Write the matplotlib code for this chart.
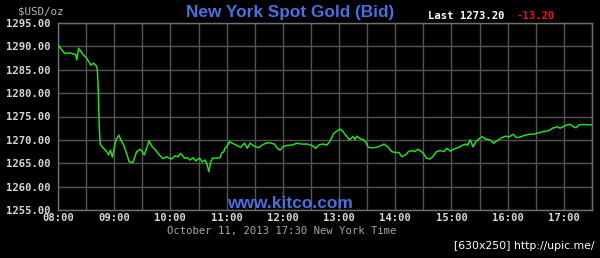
import matplotlib
matplotlib.use("Agg")
import matplotlib.pyplot as plt
import matplotlib.dates as mdates
import pandas as pd

# ---- data ----
times = ["08:00", "08:07", "08:13", "08:19", "08:20", "08:22", "08:27", "08:31", "08:35", "08:38",
         "08:41", "08:42", "08:43", "08:44", "08:45", "08:48", "08:52", "08:54", "08:56", "08:58",
         "09:00", "09:02", "09:05", "09:07", "09:10", "09:13", "09:16", "09:20", "09:24", "09:28",
         "09:32", "09:34", "09:37", "09:40", "09:44", "09:48", "09:52", "09:56", "10:01", "10:05",
         "10:08", "10:11", "10:15", "10:18", "10:21", "10:24", "10:27", "10:31", "10:34", "10:37",
         "10:39", "10:41", "10:43", "10:45", "10:50", "10:53", "10:55", "10:57", "10:58", "11:00",
         "11:03", "11:06", "11:11", "11:15", "11:19", "11:22", "11:25", "11:29", "11:34", "11:38",
         "11:42", "11:46", "11:51", "11:54", "11:57", "12:00", "12:04", "12:10", "12:15", "12:20",
         "12:26", "12:31", "12:35", "12:39", "12:43", "12:47", "12:50", "12:54", "12:57", "13:01",
         "13:04", "13:08", "13:11", "13:15", "13:17", "13:19", "13:22", "13:26", "13:29", "13:31",
         "13:35", "13:40", "13:44", "13:48", "13:52", "13:56", "14:00", "14:04", "14:07", "14:11",
         "14:14", "14:18", "14:21", "14:24", "14:28", "14:31", "14:33", "14:37", "14:40", "14:44",
         "14:48", "14:52", "14:55", "14:59", "15:02", "15:06", "15:09", "15:12", "15:16", "15:17",
         "15:20", "15:23", "15:26", "15:30", "15:33", "15:36", "15:41", "15:45", "15:50", "15:54",
         "15:58", "16:01", "16:06", "16:09", "16:13", "16:17", "16:23", "16:27", "16:31", "16:35",
         "16:38", "16:42", "16:45", "16:48", "16:53", "16:56", "16:59", "17:03", "17:07", "17:10",
         "17:13", "17:16", "17:20", "17:30"]
prices = [1290.3, 1288.5, 1288.6, 1288.2, 1287.1, 1289.6, 1288.2, 1287.3, 1286.0, 1286.4,
          1285.8, 1284.9, 1280.7, 1272.8, 1269.1, 1268.3, 1267.5, 1266.8, 1267.8, 1266.3,
          1268.3, 1270.1, 1271.0, 1270.0, 1268.9, 1267.2, 1265.3, 1265.2, 1267.5, 1268.0,
          1266.8, 1267.8, 1269.8, 1268.7, 1267.8, 1266.8, 1266.0, 1266.4, 1265.9, 1266.6,
          1266.4, 1267.1, 1266.1, 1266.2, 1265.7, 1266.2, 1265.5, 1266.1, 1265.3, 1265.7,
          1264.8, 1263.2, 1265.3, 1266.1, 1266.1, 1266.2, 1267.3, 1267.4, 1268.2, 1268.5,
          1269.6, 1269.3, 1268.8, 1268.4, 1269.3, 1268.2, 1269.3, 1268.7, 1268.3, 1268.9,
          1269.3, 1269.4, 1269.1, 1268.2, 1267.8, 1268.5, 1268.8, 1268.9, 1269.3, 1269.1,
          1269.1, 1268.8, 1268.2, 1269.0, 1269.1, 1268.9, 1269.6, 1271.3, 1271.8, 1272.3,
          1271.8, 1270.8, 1270.0, 1270.7, 1270.1, 1270.8, 1270.3, 1270.0, 1269.4, 1268.4,
          1268.3, 1268.4, 1268.7, 1269.1, 1268.5, 1267.5, 1267.3, 1267.3, 1266.4, 1266.8,
          1267.5, 1267.7, 1267.5, 1268.0, 1267.5, 1266.8, 1266.1, 1265.9, 1266.4, 1267.5,
          1267.7, 1267.5, 1268.2, 1267.6, 1268.0, 1268.3, 1268.5, 1268.9, 1269.1, 1268.8,
          1270.0, 1268.5, 1269.6, 1270.3, 1270.7, 1270.2, 1270.0, 1269.3, 1270.0, 1270.5,
          1270.8, 1270.6, 1271.2, 1270.5, 1270.6, 1270.9, 1271.2, 1271.2, 1271.4, 1271.6,
          1271.8, 1271.9, 1272.1, 1272.5, 1272.8, 1272.5, 1272.8, 1273.2, 1273.3, 1272.8,
          1272.6, 1273.2, 1273.3, 1273.2]

y_ticks = [1255, 1260, 1265, 1270, 1275, 1280, 1285, 1290, 1295]
x_ticks = ["08:00", "09:00", "10:00", "11:00", "12:00", "13:00", "14:00", "15:00", "16:00", "17:00"]
x_start, x_end = "08:00", "17:30"
day = "2013-10-11"

title = "New York Spot Gold (Bid)"
last_label = "Last 1273.20"
change_label = "-13.20"
unit_label = "$USD/oz"
date_label = "October 11, 2013 17:30 New York Time"
watermark = "www.kitco.com"
footer = "[630x250] http://upic.me/"

# ---- plot ----
def ts(s):
    return pd.Timestamp(f"{day} {s}")

t = [ts(s) for s in times]

fig = plt.figure(figsize=(6.0, 2.58), dpi=100, facecolor="black")
ax = fig.add_axes([58 / 600, 1 - 210 / 258, (592 - 58) / 600, (210 - 23) / 258])
ax.set_facecolor("black")

ax.plot(t, prices, color="#22dd22", lw=1.1, zorder=3)

ax.set_xlim(ts(x_start), ts(x_end))
ax.set_ylim(y_ticks[0], y_ticks[-1])

mono = "DejaVu Sans Mono"
tick_color = "#d8d8d8"
ax.set_yticks(y_ticks)
ax.set_yticklabels([f"{v:.2f}" for v in y_ticks], fontfamily=mono, fontweight="bold",
                   fontsize=7.6, color=tick_color)
ax.set_xticks([ts(s) for s in x_ticks])
ax.set_xticklabels(x_ticks, fontfamily=mono, fontweight="bold", fontsize=7.6, color=tick_color)
ax.xaxis.set_minor_locator(mdates.MinuteLocator(byminute=[30]))
ax.tick_params(axis="both", which="both", length=0, pad=2)
ax.tick_params(axis="y", pad=5)

ax.grid(True, which="both", color="#555555", lw=1.0)
for sp in ax.spines.values():
    sp.set_color("#707070")
    sp.set_linewidth(1.0)

fig.text(290 / 600, 1 - 12 / 258, title, color="#4a6fe0", fontsize=12.4, fontweight="bold",
         family="Liberation Sans", ha="center", va="center")
fig.text(428 / 600, 1 - 16 / 258, last_label, color="white", fontsize=7.6, fontweight="bold",
         family=mono, ha="left", va="center")
fig.text(517 / 600, 1 - 16 / 258, change_label, color="#ee1111", fontsize=7.6, fontweight="bold",
         family=mono, ha="left", va="center")
fig.text(18 / 600, 1 - 11 / 258, unit_label, color="#b8b8b8", fontsize=7.8,
         family=mono, ha="left", va="center")
fig.text(282 / 600, 1 - 231 / 258, date_label, color="#a8a8a8", fontsize=7.6,
         family=mono, ha="center", va="center")
fig.text(290 / 600, 1 - 203 / 258, watermark, color="#4a6fe0", fontsize=12.5, fontweight="bold",
         family="Liberation Sans", ha="center", va="center", zorder=5)
fig.text(595 / 600, 1 - 246 / 258, footer, color="white", fontsize=7.8,
         family="DejaVu Sans", ha="right", va="center")

fig.savefig("out.png", dpi=100, facecolor="black")
